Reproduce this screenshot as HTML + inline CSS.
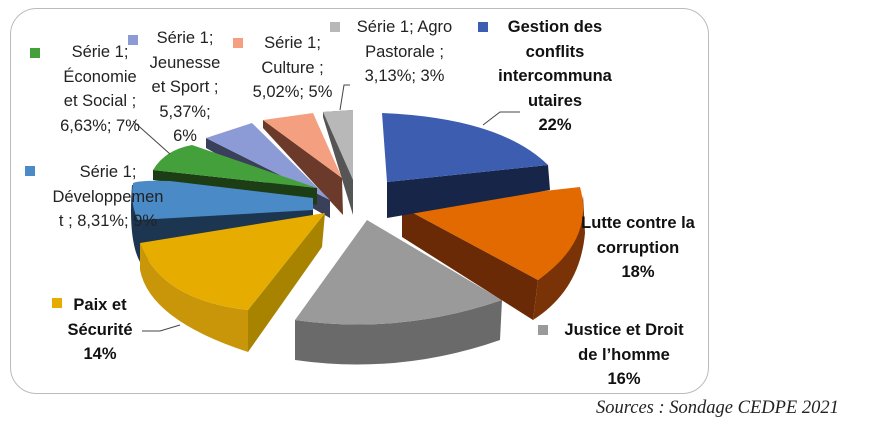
<!DOCTYPE html><html><head><meta charset="utf-8"><style>
body{margin:0;width:870px;height:436px;background:#fff;position:relative;overflow:hidden;font-family:"Liberation Sans",sans-serif;}
.t{position:absolute;font-size:16.5px;line-height:24.5px;color:#222;text-align:center;white-space:nowrap}
.b{font-weight:bold;color:#111}
.sq{position:absolute;width:10px;height:10px}
</style></head><body>
<svg width="870" height="436" style="position:absolute;left:0;top:0">
<rect x="10.5" y="8.5" width="698" height="385" rx="26" fill="none" stroke="#bbb" stroke-width="1"/>
<polygon points="323,112 353,110 353,215 323,117" fill="#555"/>
<polygon points="323,112 353,110 353,180" fill="#b8b8b8"/>
<polygon points="263,120 342,178 343,215 263,128" fill="#6b3a2a"/>
<polygon points="263,120 313,113 342,178" fill="#f4a080"/>
<polygon points="206,138 330,200 330,218 206,148" fill="#3a3f5a"/>
<polygon points="206,138 252,123 330,200" fill="#8c9bd6"/>
<polygon points="153,170 317,188 317,205 153,180" fill="#1d3d14"/>
<path d="M153,170 Q165,150 192,145 L317,188 Z" fill="#43a03a"/>
<path d="M132,185 L313,200 L313,225 L140,262 Q128,240 132,185 Z" fill="#1c3550"/>
<path d="M133,183 Q140,180 170,181 L313,198 L313,210 L138,220 Q130,205 133,183 Z" fill="#4a8ac6"/>
<path d="M140,243 L140,270 Q150,320 248,352 L248,310 Q160,300 140,243 Z" fill="#c9960a"/>
<polygon points="325,213 322,247 248,352 248,310" fill="#a88300"/>
<path d="M140,243 L325,213 L248,310 Q160,300 140,243 Z" fill="#e6ac00"/>
<path d="M295,320 L295,360 Q400,375 500,340 L502,300 Q400,335 295,320 Z" fill="#6a6a6a"/>
<path d="M367,220 L295,320 Q400,335 502,300 Z" fill="#9a9a9a"/>
<path d="M402,207 L402,237 L533,320 L538,280 Z" fill="#6a2a06"/>
<path d="M538,280 L533,320 Q580,290 585,233 L583,195 Q580,250 538,280 Z" fill="#7a3306"/>
<path d="M402,207 L580,187 Q595,240 538,280 Z" fill="#e26a00"/>
<path d="M387,182 L387,218 L550,190 L548,165 Z" fill="#172648"/>
<path d="M382,113 Q500,118 548,165 L387,182 Z" fill="#3c5db0"/>
<polyline points="483,125 500,112 520,112" fill="none" stroke="#444" stroke-width="1"/>
<polyline points="133,121 170,154" fill="none" stroke="#444" stroke-width="1"/>
<polyline points="340,110 344,85 350,85" fill="none" stroke="#444" stroke-width="1"/>
<polyline points="142,331 160,331 180,325" fill="none" stroke="#444" stroke-width="1"/>
</svg>
<div class="sq" style="left:30px;top:48px;background:#43a03a"></div>
<div class="t" style="left:40px;top:40px;width:120px">Série 1;<br>Économie<br>et Social ;<br>6,63%; 7%</div>
<div class="sq" style="left:128px;top:35px;background:#8c9bd6"></div>
<div class="t" style="left:135px;top:26px;width:100px">Série 1;<br>Jeunesse<br>et Sport ;<br>5,37%;<br>6%</div>
<div class="sq" style="left:233px;top:38px;background:#f4a080"></div>
<div class="t" style="left:245px;top:31px;width:95px">Série 1;<br>Culture ;<br>5,02%; 5%</div>
<div class="sq" style="left:330px;top:22px;background:#b8b8b8"></div>
<div class="t" style="left:342px;top:15px;width:125px">Série 1; Agro<br>Pastorale ;<br>3,13%; 3%</div>
<div class="sq" style="left:478px;top:22px;background:#3c5db0"></div>
<div class="t b" style="left:487px;top:15px;width:136px">Gestion des<br>conflits<br>intercommuna<br>utaires<br>22%</div>
<div class="sq" style="left:25px;top:166px;background:#4a8ac6"></div>
<div class="t" style="left:37px;top:160px;width:142px">Série 1;<br>Développemen<br>t ; 8,31%; 9%</div>
<div class="sq" style="left:558px;top:218px;background:#e26a00"></div>
<div class="t b" style="left:565px;top:211px;width:146px">Lutte contre la<br>corruption<br>18%</div>
<div class="sq" style="left:538px;top:325px;background:#9a9a9a"></div>
<div class="t b" style="left:546px;top:318px;width:156px">Justice et Droit<br>de l’homme<br>16%</div>
<div class="sq" style="left:52px;top:298px;background:#e6ac00"></div>
<div class="t b" style="left:55px;top:293px;width:90px">Paix et<br>Sécurité<br>14%</div>
<div style="position:absolute;left:596px;top:398px;font-family:'Liberation Serif',serif;font-style:italic;font-size:18.5px;color:#222;white-space:nowrap">Sources : Sondage CEDPE 2021</div>
</body></html>
